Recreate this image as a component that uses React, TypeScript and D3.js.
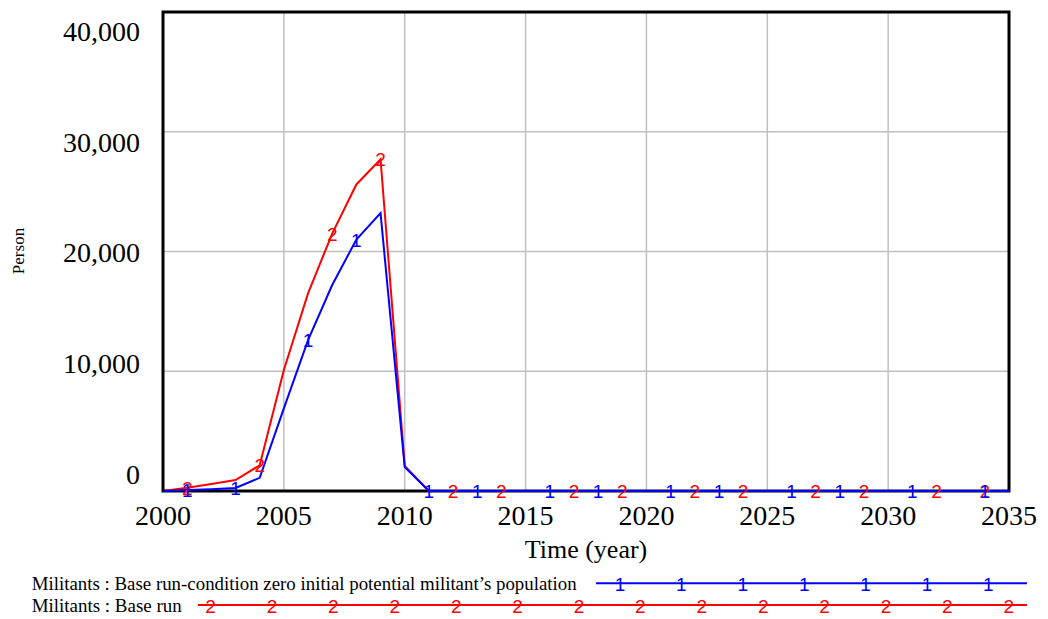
import React from "react";
import * as d3 from "d3";

const years: number[] = d3.range(2000, 2036);
const blueValues: number[] = [
  0, 80, 150, 250, 1100, 6900, 12600, 17200, 21000, 23200, 2000,
  0, 0, 0, 0, 0, 0, 0, 0, 0, 0, 0, 0, 0, 0, 0, 0, 0, 0, 0, 0, 0, 0, 0, 0, 0,
];
const redValues: number[] = [
  0, 280, 580, 920, 2150, 10100, 16500, 21500, 25600, 27700, 2100,
  0, 0, 0, 0, 0, 0, 0, 0, 0, 0, 0, 0, 0, 0, 0, 0, 0, 0, 0, 0, 0, 0, 0, 0, 0,
];
const blueMarkerYears: number[] = [2001, 2003, 2006, 2008, 2011, 2013, 2016, 2018, 2021, 2023, 2026, 2028, 2031, 2034];
const redMarkerYears: number[] = [2001, 2004, 2007, 2009, 2012, 2014, 2017, 2019, 2022, 2024, 2027, 2029, 2032, 2034];
const xTicks: number[] = [2000, 2005, 2010, 2015, 2020, 2025, 2030, 2035];
const yTicks: number[] = [0, 10000, 20000, 30000, 40000];
const blueLabel = "Militants : Base run-condition zero initial potential militant\u2019s population";
const redLabel = "Militants : Base run";

const W = 1048, H = 619;
const L = 163, R = 1009, T = 12, B = 491;
const BLUE = "#0000ff", RED = "#ff0000";
const SERIF = "'Liberation Serif', 'Times New Roman', serif";
const SANS = "'Liberation Sans', Arial, sans-serif";

export default function App() {
  const x = d3.scaleLinear().domain([2000, 2035]).range([L, R]);
  const y = d3.scaleLinear().domain([0, 40000]).range([B, T]);
  const yLabel = d3.scaleLinear().domain([0, 40000]).range([484, 40.7]);
  const fmt = d3.format(",");
  const line = d3.line<[number, number]>().x(d => x(d[0])).y(d => y(d[1]));
  const bluePts: [number, number][] = years.map((yr, i) => [yr, blueValues[i]]);
  const redPts: [number, number][] = years.map((yr, i) => [yr, redValues[i]]);
  const mFont = 19;

  const legendMarkers = (start: number, n: number) => d3.range(n).map(k => start + k * 61.4);

  return (
    <svg width={W} height={H} style={{ position: "fixed", left: 0, top: 0, background: "#fff" }}>
      <rect x={0} y={0} width={W} height={H} fill="#fff" />
      {/* grid */}
      {xTicks.filter(t => t > 2000 && t < 2035).map(t => (
        <line key={"gx" + t} x1={x(t)} x2={x(t)} y1={T} y2={B} stroke="#c0c0c0" strokeWidth={1.5} />
      ))}
      {yTicks.filter(t => t > 0 && t < 40000).map(t => (
        <line key={"gy" + t} x1={L} x2={R} y1={y(t)} y2={y(t)} stroke="#c0c0c0" strokeWidth={1.5} />
      ))}
      <rect x={L} y={T} width={R - L} height={B - T} fill="none" stroke="#000" strokeWidth={3} />
      {/* y labels */}
      {yTicks.map(t => (
        <text key={"yl" + t} x={140} y={yLabel(t)} textAnchor="end" fontFamily={SERIF} fontSize={28} fill="#000">{fmt(t)}</text>
      ))}
      {/* x labels */}
      {xTicks.map(t => (
        <text key={"xl" + t} x={x(t)} y={525} textAnchor="middle" fontFamily={SERIF} fontSize={28} fill="#000">{t}</text>
      ))}
      <text x={(L + R) / 2} y={558} textAnchor="middle" fontFamily={SERIF} fontSize={26} fill="#000">Time (year)</text>
      <text transform={`translate(24,251) rotate(-90)`} textAnchor="middle" fontFamily={SERIF} fontSize={17} fill="#000">Person</text>
      {/* series */}
      <path d={line(redPts) || ""} fill="none" stroke={RED} strokeWidth={2} />
      <path d={line(bluePts) || ""} fill="none" stroke={BLUE} strokeWidth={2} />
      {redMarkerYears.map(yr => (
        <text key={"rm" + yr} x={x(yr)} y={y(redValues[yr - 2000]) + 7} textAnchor="middle" fontFamily={SANS} fontSize={mFont} fill={RED}>2</text>
      ))}
      {blueMarkerYears.map(yr => (
        <text key={"bm" + yr} x={x(yr)} y={y(blueValues[yr - 2000]) + 7} textAnchor="middle" fontFamily={SANS} fontSize={mFont} fill={BLUE}>1</text>
      ))}
      {/* legend */}
      <text x={31.7} y={590} fontFamily={SERIF} fontSize={18} textLength={545} lengthAdjust="spacingAndGlyphs" fill="#000">{blueLabel}</text>
      <line x1={596} x2={1027} y1={583.3} y2={583.3} stroke={BLUE} strokeWidth={2} />
      {legendMarkers(620, 7).map((mx, k) => (
        <text key={"lb" + k} x={mx} y={583.3 + 7.5} textAnchor="middle" fontFamily={SANS} fontSize={mFont} fill={BLUE}>1</text>
      ))}
      <text x={31.7} y={611.5} fontFamily={SERIF} fontSize={18} textLength={150} lengthAdjust="spacingAndGlyphs" fill="#000">{redLabel}</text>
      <line x1={198} x2={1027} y1={605} y2={605} stroke={RED} strokeWidth={2} />
      {legendMarkers(210.6, 14).map((mx, k) => (
        <text key={"lr" + k} x={mx} y={605 + 8} textAnchor="middle" fontFamily={SANS} fontSize={mFont} fill={RED}>2</text>
      ))}
    </svg>
  );
}
